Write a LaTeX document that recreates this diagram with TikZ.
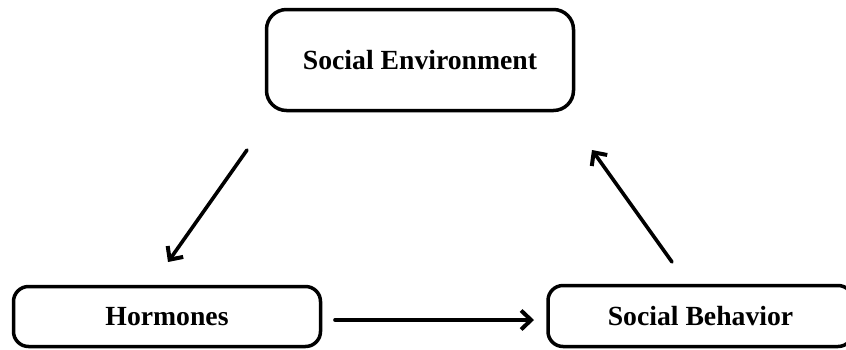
\documentclass[tikz,border=0pt]{standalone}
\usepackage{fontspec}
\setmainfont{Liberation Serif}
\usetikzlibrary{arrows.meta}
\begin{document}
\begin{tikzpicture}[x=1pt,y=-1pt,
  box/.style={draw, line width=3.5pt, inner sep=0pt, font=\fontsize{27.7}{30}\selectfont\bfseries},
  arr/.style={line width=3.6pt, line cap=round, -{Straight Barb[length=10pt,width=19pt,line width=4pt]}}]
\useasboundingbox (0,0) rectangle (846,349);
\clip (0,0) rectangle (846,349);
\node[box, rounded corners=20pt, minimum width=307pt, minimum height=101pt] (env) at (420,60) {Social Environment};
\node[box, rounded corners=15pt, minimum width=307pt, minimum height=60pt] (hor) at (167,316.5) {Hormones};
\node[box, rounded corners=15pt, minimum width=305pt, minimum height=61pt] (beh) at (700.5,316) {Social Behavior};
\coordinate (a1) at (247,150);
\coordinate (a2) at (168,262);
\coordinate (b1) at (672,262);
\coordinate (b2) at (592,150);
\coordinate (c1) at (335,320);
\coordinate (c2) at (534,320);
\draw[arr] (a1) -- (a2);
\draw[arr] (b1) -- (b2);
\draw[arr] (c1) -- (c2);
\end{tikzpicture}
\end{document}
